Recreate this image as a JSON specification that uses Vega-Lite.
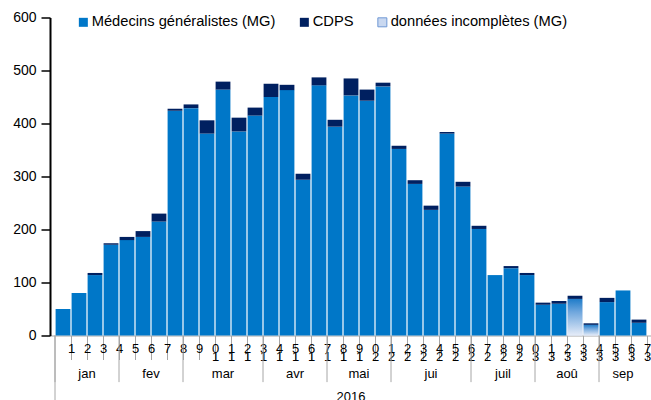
{
  "$schema": "https://vega.github.io/schema/vega-lite/v6.json",
  "width": 602,
  "height": 318,
  "autosize": {"type": "none"},
  "padding": {"left": 50, "top": 17.5, "right": 0, "bottom": 65},
  "config": {"view": {"stroke": null}, "font": "Liberation Sans"},
  "datasets": {
    "semaines": [
      {"semaine": 1, "serie": "Médecins généralistes (MG)", "n": 50},
      {"semaine": 2, "serie": "Médecins généralistes (MG)", "n": 80},
      {"semaine": 3, "serie": "Médecins généralistes (MG)", "n": 114},
      {"semaine": 3, "serie": "CDPS", "n": 4},
      {"semaine": 4, "serie": "Médecins généralistes (MG)", "n": 171},
      {"semaine": 4, "serie": "CDPS", "n": 3},
      {"semaine": 5, "serie": "Médecins généralistes (MG)", "n": 180},
      {"semaine": 5, "serie": "CDPS", "n": 6},
      {"semaine": 6, "serie": "Médecins généralistes (MG)", "n": 186},
      {"semaine": 6, "serie": "CDPS", "n": 11},
      {"semaine": 7, "serie": "Médecins généralistes (MG)", "n": 215},
      {"semaine": 7, "serie": "CDPS", "n": 15},
      {"semaine": 8, "serie": "Médecins généralistes (MG)", "n": 424},
      {"semaine": 8, "serie": "CDPS", "n": 4},
      {"semaine": 9, "serie": "Médecins généralistes (MG)", "n": 429},
      {"semaine": 9, "serie": "CDPS", "n": 7},
      {"semaine": 10, "serie": "Médecins généralistes (MG)", "n": 381},
      {"semaine": 10, "serie": "CDPS", "n": 25},
      {"semaine": 11, "serie": "Médecins généralistes (MG)", "n": 464},
      {"semaine": 11, "serie": "CDPS", "n": 15},
      {"semaine": 12, "serie": "Médecins généralistes (MG)", "n": 385},
      {"semaine": 12, "serie": "CDPS", "n": 26},
      {"semaine": 13, "serie": "Médecins généralistes (MG)", "n": 415},
      {"semaine": 13, "serie": "CDPS", "n": 15},
      {"semaine": 14, "serie": "Médecins généralistes (MG)", "n": 450},
      {"semaine": 14, "serie": "CDPS", "n": 25},
      {"semaine": 15, "serie": "Médecins généralistes (MG)", "n": 463},
      {"semaine": 15, "serie": "CDPS", "n": 10},
      {"semaine": 16, "serie": "Médecins généralistes (MG)", "n": 294},
      {"semaine": 16, "serie": "CDPS", "n": 11},
      {"semaine": 17, "serie": "Médecins généralistes (MG)", "n": 472},
      {"semaine": 17, "serie": "CDPS", "n": 15},
      {"semaine": 18, "serie": "Médecins généralistes (MG)", "n": 394},
      {"semaine": 18, "serie": "CDPS", "n": 13},
      {"semaine": 19, "serie": "Médecins généralistes (MG)", "n": 453},
      {"semaine": 19, "serie": "CDPS", "n": 32},
      {"semaine": 20, "serie": "Médecins généralistes (MG)", "n": 443},
      {"semaine": 20, "serie": "CDPS", "n": 21},
      {"semaine": 21, "serie": "Médecins généralistes (MG)", "n": 470},
      {"semaine": 21, "serie": "CDPS", "n": 7},
      {"semaine": 22, "serie": "Médecins généralistes (MG)", "n": 352},
      {"semaine": 22, "serie": "CDPS", "n": 6},
      {"semaine": 23, "serie": "Médecins généralistes (MG)", "n": 286},
      {"semaine": 23, "serie": "CDPS", "n": 7},
      {"semaine": 24, "serie": "Médecins généralistes (MG)", "n": 237},
      {"semaine": 24, "serie": "CDPS", "n": 8},
      {"semaine": 25, "serie": "Médecins généralistes (MG)", "n": 381},
      {"semaine": 25, "serie": "CDPS", "n": 3},
      {"semaine": 26, "serie": "Médecins généralistes (MG)", "n": 281},
      {"semaine": 26, "serie": "CDPS", "n": 9},
      {"semaine": 27, "serie": "Médecins généralistes (MG)", "n": 201},
      {"semaine": 27, "serie": "CDPS", "n": 6},
      {"semaine": 28, "serie": "Médecins généralistes (MG)", "n": 114},
      {"semaine": 29, "serie": "Médecins généralistes (MG)", "n": 127},
      {"semaine": 29, "serie": "CDPS", "n": 4},
      {"semaine": 30, "serie": "Médecins généralistes (MG)", "n": 114},
      {"semaine": 30, "serie": "CDPS", "n": 4},
      {"semaine": 31, "serie": "Médecins généralistes (MG)", "n": 58},
      {"semaine": 31, "serie": "CDPS", "n": 4},
      {"semaine": 32, "serie": "Médecins généralistes (MG)", "n": 60},
      {"semaine": 32, "serie": "CDPS", "n": 5},
      {"semaine": 33, "serie": "données incomplètes (MG)", "n": 69},
      {"semaine": 33, "serie": "CDPS", "n": 6},
      {"semaine": 34, "serie": "données incomplètes (MG)", "n": 20},
      {"semaine": 34, "serie": "CDPS", "n": 3},
      {"semaine": 35, "serie": "Médecins généralistes (MG)", "n": 63},
      {"semaine": 35, "serie": "CDPS", "n": 8},
      {"semaine": 36, "serie": "Médecins généralistes (MG)", "n": 85},
      {"semaine": 37, "serie": "Médecins généralistes (MG)", "n": 24},
      {"semaine": 37, "serie": "CDPS", "n": 6}
    ],
    "mois": [
      {"mois": "jan", "debut": 0.5, "fin": 4.5},
      {"mois": "fev", "debut": 4.5, "fin": 8.5},
      {"mois": "mar", "debut": 8.5, "fin": 13.5},
      {"mois": "avr", "debut": 13.5, "fin": 17.5},
      {"mois": "mai", "debut": 17.5, "fin": 21.5},
      {"mois": "jui", "debut": 21.5, "fin": 26.5},
      {"mois": "juil", "debut": 26.5, "fin": 30.5},
      {"mois": "aoû", "debut": 30.5, "fin": 34.5},
      {"mois": "sep", "debut": 34.5, "fin": 37.5}
    ],
    "annee": [
      {"annee": "2016", "debut": 0.5, "fin": 37.5}
    ]
  },
  "layer": [
    {
      "data": {"name": "semaines"},
      "mark": {"type": "bar", "width": 14.8},
      "encoding": {
        "x": {
          "field": "semaine", "type": "quantitative", "title": null,
          "scale": {"domain": [0.5, 37.5], "nice": false, "zero": false},
          "axis": {
            "values": [1.5, 2.5, 3.5, 4.5, 5.5, 6.5, 7.5, 8.5, 9.5, 10.5, 11.5, 12.5, 13.5, 14.5, 15.5, 16.5, 17.5, 18.5, 19.5, 20.5, 21.5, 22.5, 23.5, 24.5, 25.5, 26.5, 27.5, 28.5, 29.5, 30.5, 31.5, 32.5, 33.5, 34.5, 35.5, 36.5, 37.5],
            "tickCount": 100,
            "labelExpr": "(datum.value - 0.5) >= 10 ? [toString((datum.value - 0.5) % 10), toString(floor((datum.value - 0.5) / 10))] : toString(datum.value - 0.5)",
            "grid": false,
            "tickSize": 24,
            "tickColor": "#a6a6a6",
            "domainColor": "#a6a6a6",
            "labelPadding": -17,
            "labelFontSize": 13,
            "labelColor": "#000000",
            "labelLineHeight": 8,
            "labelFlush": false,
            "labelOverlap": false,
            "labelBound": false
          }
        },
        "y": {
          "field": "n", "type": "quantitative", "stack": "zero", "title": null,
          "scale": {"domain": [0, 600], "nice": false},
          "axis": {
            "values": [0, 100, 200, 300, 400, 500, 600],
            "grid": false,
            "domainColor": "#000000",
            "domainWidth": 2,
            "tickColor": "#000000",
            "tickSize": 9,
            "tickWidth": 1.5,
            "labelFontSize": 14,
            "labelPadding": 5,
            "labelColor": "#000000"
          }
        },
        "color": {
          "field": "serie", "type": "nominal",
          "scale": {
            "domain": ["Médecins généralistes (MG)", "CDPS", "données incomplètes (MG)"],
            "range": ["#0077c8", "#002060", "#c9d8f0"]
          },
          "legend": {
            "orient": "none", "legendX": 26, "legendY": -3,
            "direction": "horizontal", "title": null,
            "labelFontSize": 14.7, "labelColor": "#000000", "labelLimit": 400,
            "symbolType": "square", "symbolSize": 81, "symbolStrokeWidth": 0,
            "symbolOpacity": 1,
            "columnPadding": 21, "labelOffset": 1,
            "encode": {
              "symbols": {
                "update": {
                  "stroke": {"signal": "datum.value === 'données incomplètes (MG)' ? '#6f98d4' : 'transparent'"},
                  "strokeWidth": {"value": 1}
                }
              }
            }
          }
        },
        "order": {"field": "serie", "sort": "descending"}
      }
    },
    {
      "data": {"name": "semaines"},
      "transform": [{"filter": "datum.serie === 'données incomplètes (MG)'"}],
      "mark": {
        "type": "bar", "width": 14.8,
        "color": {
          "gradient": "linear", "x1": 0, "y1": 0, "x2": 0, "y2": 1,
          "stops": [
            {"offset": 0, "color": "#1f7cc9"},
            {"offset": 0.35, "color": "#6ea6dd"},
            {"offset": 1, "color": "#e6ecf8"}
          ]
        }
      },
      "encoding": {
        "x": {"field": "semaine", "type": "quantitative", "title": null},
        "y": {"field": "n", "type": "quantitative", "title": null}
      }
    },
    {
      "data": {"name": "mois"},
      "mark": {"type": "rule", "color": "#a6a6a6", "strokeWidth": 1},
      "encoding": {
        "x": {"field": "debut", "type": "quantitative", "title": null},
        "y": {"datum": 0},
        "y2": {"datum": -88}
      }
    },
    {
      "data": {"name": "mois"},
      "transform": [{"calculate": "(datum.debut + datum.fin) / 2", "as": "milieu"}],
      "mark": {"type": "text", "fontSize": 13, "color": "#000000", "baseline": "middle"},
      "encoding": {
        "x": {"field": "milieu", "type": "quantitative", "title": null},
        "y": {"datum": -72},
        "text": {"field": "mois"}
      }
    },
    {
      "data": {"name": "annee"},
      "mark": {"type": "rule", "color": "#a6a6a6", "strokeWidth": 1},
      "encoding": {
        "x": {"field": "debut", "type": "quantitative", "title": null},
        "y": {"datum": 0},
        "y2": {"datum": -122}
      }
    },
    {
      "data": {"name": "annee"},
      "transform": [{"calculate": "(datum.debut + datum.fin) / 2", "as": "milieu"}],
      "mark": {"type": "text", "fontSize": 13, "color": "#000000", "baseline": "middle"},
      "encoding": {
        "x": {"field": "milieu", "type": "quantitative", "title": null},
        "y": {"datum": -116},
        "text": {"field": "annee"}
      }
    }
  ]
}
